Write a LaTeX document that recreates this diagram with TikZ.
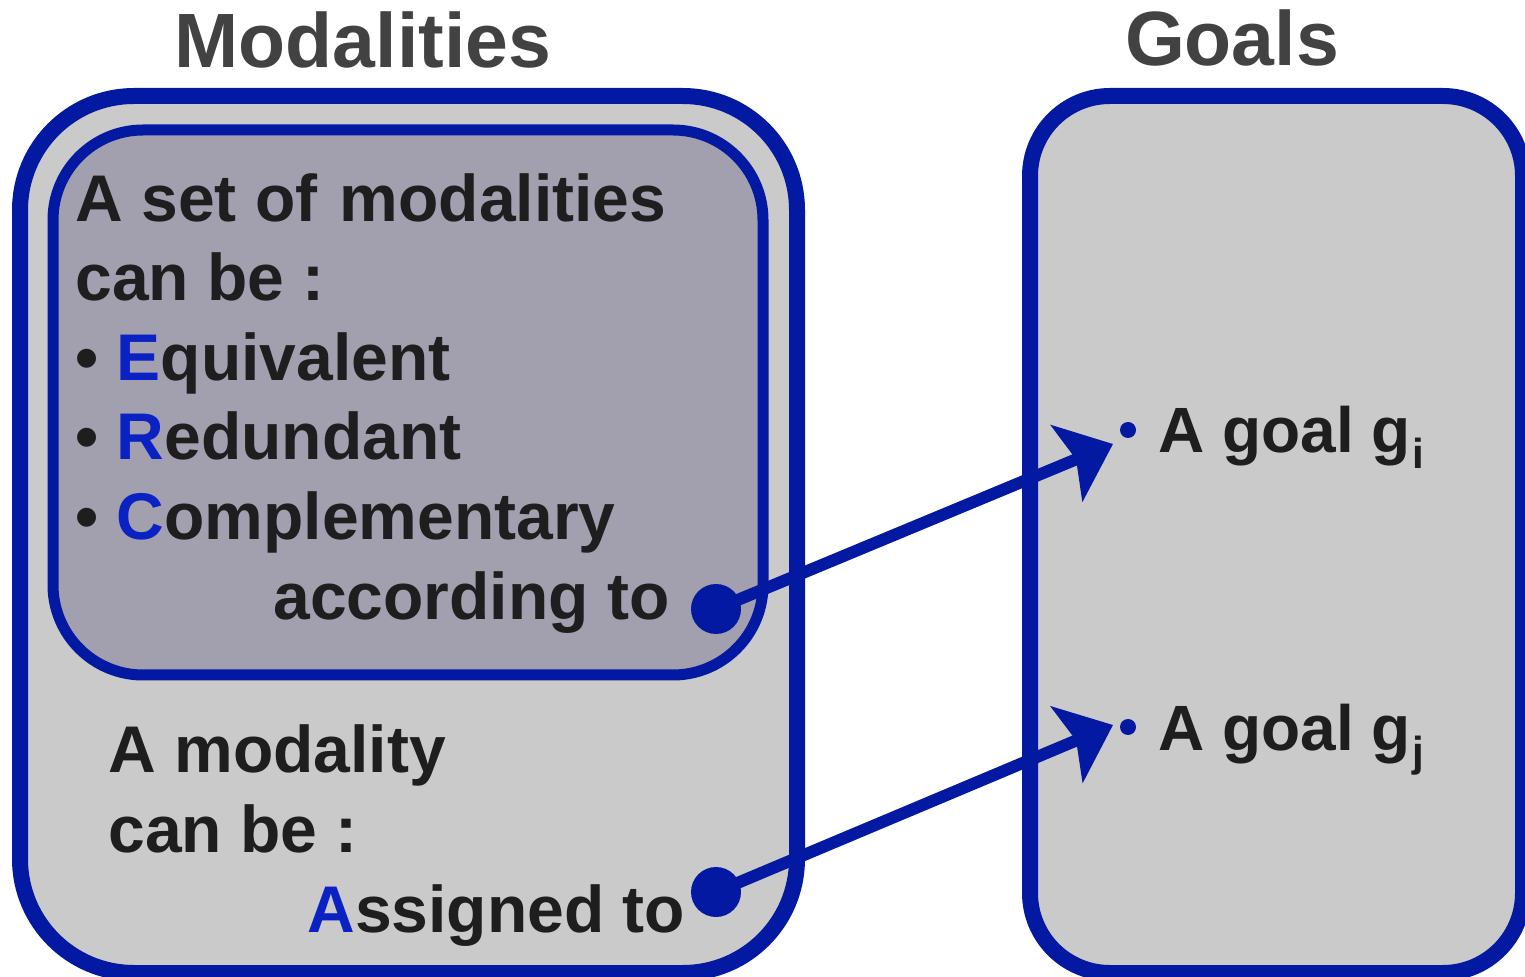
\documentclass[tikz,border=0pt]{standalone}
\usepackage{fontspec}
\setmainfont{Liberation Sans}
\usetikzlibrary{arrows.meta}
\definecolor{bord}{HTML}{0419A2}
\definecolor{lblue}{HTML}{0A22C4}
\definecolor{outfill}{HTML}{CACACA}
\definecolor{infill}{HTML}{A29FAE}
\definecolor{txt}{HTML}{1E1E1E}
\definecolor{ttl}{HTML}{424242}
\tikzset{
  title/.style={font=\bfseries\fontsize{38.5}{38.5}\selectfont, text=ttl, inner sep=0pt},
  body/.style={font=\bfseries\fontsize{33}{33}\selectfont, text=txt, inner sep=0pt, anchor=base west},
  goal/.style={font=\bfseries\fontsize{32}{32}\selectfont, text=txt, inner sep=0pt, anchor=base west},
  bigdot/.style={circle, fill=bord, inner sep=0pt, minimum size=25pt},
  smalldot/.style={circle, fill=bord, inner sep=0pt, minimum size=8pt},
  link/.style={draw=bord, line width=6pt, -{Stealth[length=25pt, width=41pt, inset=5pt]}},
}
\newcommand{\bl}[1]{\textcolor{lblue}{#1}}
\begin{document}
\begin{tikzpicture}[x=0.5pt, y=-0.5pt]
\useasboundingbox (0,0) rectangle (1525,977);
% boxes
\draw[draw=bord, fill=outfill, line width=8pt, rounded corners=57pt] (20,96) rectangle (797,973);
\draw[draw=bord, fill=infill, line width=5.5pt, rounded corners=45pt] (53,130) rectangle (763,675);
\draw[draw=bord, fill=outfill, line width=8pt, rounded corners=40pt] (1030,96) rectangle (1523,973);
% titles
\node[title, anchor=base] (tm) at (363,68) {Modalities};
\node[title, anchor=base] (tg) at (1232,66) {Goals};
% left texts
\node[body] (l1) at (75,222) {A set of\kern2pt\ modalities};
\node[body] (l2) at (75,301) {can be :};
\node[body] (l3) at (75,381) {• \bl{E}quivalent};
\node[body] (l4) at (75,460) {• \bl{R}edundant};
\node[body] (l5) at (75,540) {• \bl{C}omplementary};
\node[body] (l6) at (273,620) {according to};
\node[body] (m1) at (108,772) {A modality};
\node[body] (m2) at (108,852) {can be :};
\node[body] (m3) at (307,932) {\bl{A}ssigned to};
% goals
\node[smalldot] (di) at (1128,430) {};
\node[smalldot] (dj) at (1128,727) {};
\node[goal] (gi) at (1158,453) {A goal g\kern1pt\raisebox{-8pt}{\fontsize{21}{21}\selectfont i}};
\node[goal] (gj) at (1158,750) {A goal g\kern1pt\raisebox{-8pt}{\fontsize{21}{21}\selectfont j}};
% connectors
\node[bigdot] (a1) at (716,609) {};
\node[bigdot] (a2) at (716,892) {};
\coordinate (ti) at (1113,444);
\coordinate (tj) at (1113,725);
\draw[link] (a1.center) -- (ti);
\draw[link] (a2.center) -- (tj);
\end{tikzpicture}
\end{document}
